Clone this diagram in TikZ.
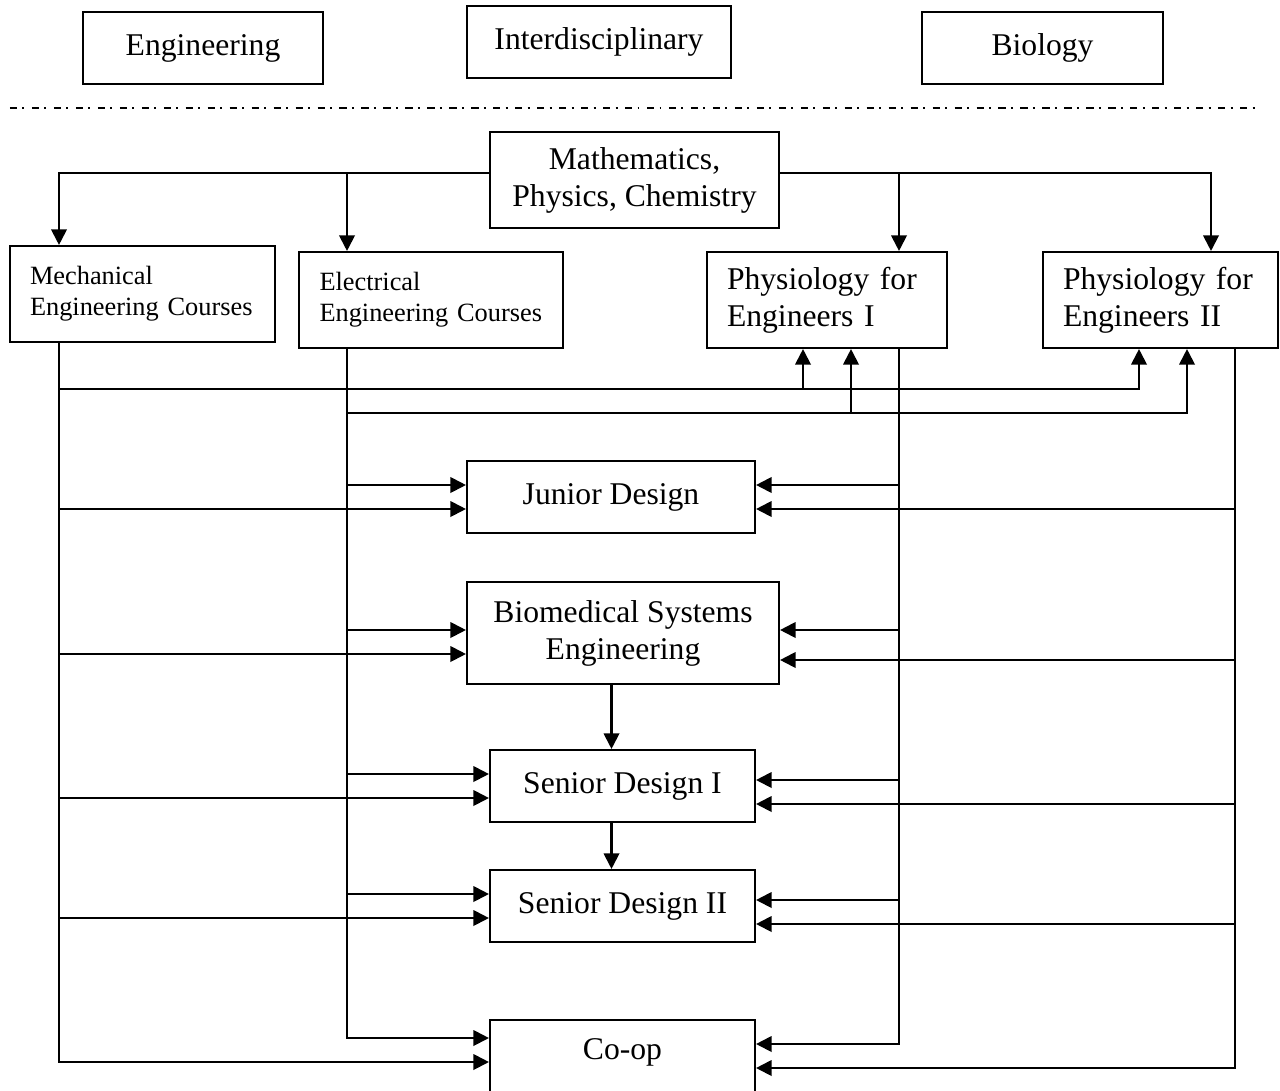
\documentclass[tikz,border=0pt]{standalone}
\usepackage{fontspec}
\setmainfont{Liberation Serif}
\usetikzlibrary{arrows.meta}
\begin{document}
\begin{tikzpicture}[
  line width=1.15pt,
  box/.style={draw, rectangle, inner sep=0pt, line width=1.2pt},
  big/.style={font=\fontsize{18}{21}\selectfont},
  small/.style={font=\fontsize{15}{17.6}\selectfont},
  arr/.style={-{Triangle[length=8.8pt,width=8.8pt]}},
  sepline/.style={dash pattern=on 4.1pt off 3pt on 1.1pt off 4.3pt}
]
\useasboundingbox (0,0) rectangle (25.6,-21.82);

% header boxes
\node[box,big,minimum width=4.8cm,minimum height=1.44cm] (eng) at (4.06,-0.96) {Engineering};
\node[box,big,minimum width=5.28cm,minimum height=1.44cm] (inter) at (11.98,-0.84) {Interdisciplinary};
\node[box,big,minimum width=4.82cm,minimum height=1.44cm] (bio) at (20.85,-0.96) {Biology};
\coordinate (sepL) at (0.2,-2.16);
\coordinate (sepR) at (25.16,-2.16);
\draw[sepline] (sepL) -- (sepR);

% main boxes
\node[box,big,align=center,minimum width=5.78cm,minimum height=1.92cm] (math) at (12.69,-3.6) {Mathematics,\\Physics, Chemistry};
\node[box,small,align=left,text width=4.5cm,inner xsep=0.4cm,minimum height=1.92cm] (mech) at (2.85,-5.88) {Mechanical\\Engineering Courses};
\node[box,small,align=left,text width=4.46cm,inner xsep=0.41cm,minimum height=1.92cm] (elec) at (8.62,-6.0) {Electrical\\Engineering Courses};
\node[box,big,align=left,text width=4.0cm,inner xsep=0.4cm,minimum height=1.92cm] (phys1) at (16.54,-6.0) {Physiology for\\Engineers I};
\node[box,big,align=left,text width=3.9cm,inner xsep=0.4cm,minimum height=1.92cm] (phys2) at (23.21,-6.0) {Physiology for\\Engineers II};

\node[box,big,minimum width=5.76cm,minimum height=1.44cm] (junior) at (12.22,-9.94) {Junior Design};
\node[box,big,align=center,minimum width=6.24cm,minimum height=2.04cm] (biomed) at (12.46,-12.66) {Biomedical Systems\\Engineering};
\node[box,big,minimum width=5.3cm,minimum height=1.44cm] (sd1) at (12.45,-15.72) {Senior Design I};
\node[box,big,minimum width=5.3cm,minimum height=1.44cm] (sd2) at (12.45,-18.12) {Senior Design II};
\node[box,minimum width=5.3cm,minimum height=1.6cm] (coop) at (12.45,-21.2) {};
\node[big] (cooptext) at (12.45,-21.04) {Co-op};

% trunk x positions
\coordinate (mx) at (1.18,0);
\coordinate (ex) at (6.94,0);
\coordinate (p1x) at (17.98,0);
\coordinate (p2x) at (24.7,0);
\coordinate (p2d) at (24.22,0);
\coordinate (sdx) at (12.23,0);

% from Mathematics box
\coordinate (mtl) at ([yshift=0.14cm]math.west);
\coordinate (mtr) at ([yshift=0.14cm]math.east);
\draw[arr] (mtl) -| (mx |- mech.north);
\draw[arr] (ex |- mtl) -- (ex |- elec.north);
\draw[arr] (mtr) -| (p2d |- phys2.north);
\draw[arr] (p1x |- mtr) -- (p1x |- phys1.north);

% engineering courses into physiology
\coordinate (hy1) at (0,-7.78);
\coordinate (hy2) at (0,-8.26);
\coordinate (p1a) at ([xshift=-0.48cm]phys1.south);
\coordinate (p1b) at ([xshift=0.48cm]phys1.south);
\coordinate (p2a) at ([xshift=-0.43cm]phys2.south);
\coordinate (p2b) at ([xshift=0.53cm]phys2.south);
\draw[arr] (mx |- hy1) -| (p2a);
\draw[arr] (p1a |- hy1) -- (p1a);
\draw[arr] (ex |- hy2) -| (p2b);
\draw[arr] (p1b |- hy2) -- (p1b);

% trunks ending at Co-op
\coordinate (coopL1) at ([yshift=0.44cm]coop.west);
\coordinate (coopL2) at ([yshift=-0.04cm]coop.west);
\coordinate (coopR1) at ([yshift=0.32cm]coop.east);
\coordinate (coopR2) at ([yshift=-0.16cm]coop.east);
\draw[arr] (mx |- mech.south) |- (coopL2);
\draw[arr] (ex |- elec.south) |- (coopL1);
\draw[arr] (p1x |- phys1.south) |- (coopR1);
\draw[arr] (p2x |- phys2.south) |- (coopR2);

% branches
\foreach \n/\a/\b/\c/\d in {junior/0.24/-0.24/0.24/-0.24, biomed/0.06/-0.42/0.06/-0.54, sd1/0.24/-0.24/0.12/-0.36, sd2/0.24/-0.24/0.12/-0.36}{
  \coordinate (\n-l1) at ([yshift=\a cm]\n.west);
  \coordinate (\n-l2) at ([yshift=\b cm]\n.west);
  \coordinate (\n-r1) at ([yshift=\c cm]\n.east);
  \coordinate (\n-r2) at ([yshift=\d cm]\n.east);
  \draw[arr] (ex |- \n-l1) -- (\n-l1);
  \draw[arr] (mx |- \n-l2) -- (\n-l2);
  \draw[arr] (p1x |- \n-r1) -- (\n-r1);
  \draw[arr] (p2x |- \n-r2) -- (\n-r2);
}

% sequence
\draw[arr] (sdx |- biomed.south) -- (sdx |- sd1.north);
\draw[arr] (sdx |- sd1.south) -- (sdx |- sd2.north);
\end{tikzpicture}
\end{document}
